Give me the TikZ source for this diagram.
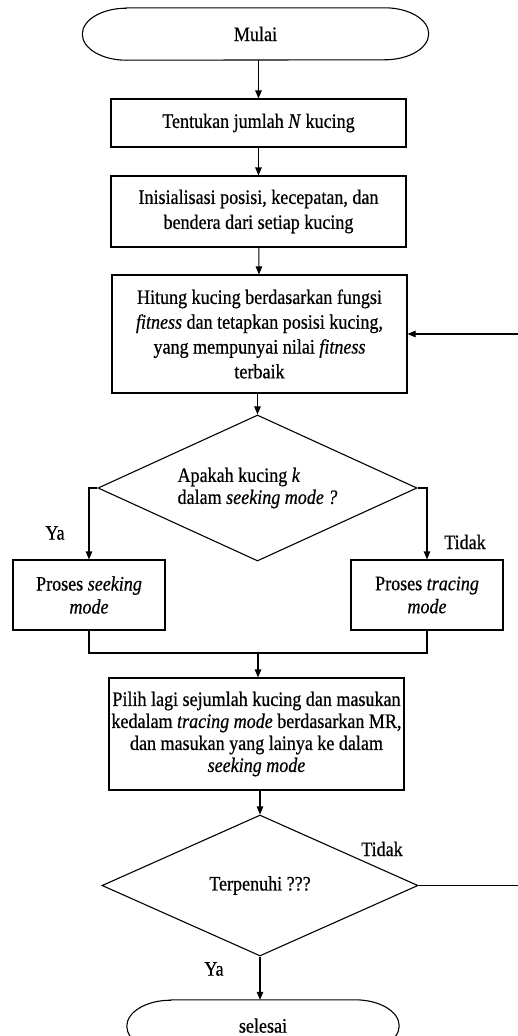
\documentclass[tikz,border=0pt]{standalone}
\usepackage{fontspec}
\setmainfont{Liberation Serif}[FakeStretch=0.88,FakeBold=0.6]
\usetikzlibrary{shapes.geometric,arrows.meta}
\begin{document}
\begin{tikzpicture}[x=1pt,y=-1pt,
  every node/.style={font=\fontsize{20.5}{24}\selectfont, inner sep=2pt},
  conn/.style={line width=1.1pt, -{Triangle[length=8pt,width=6.5pt]}},
  plain/.style={line width=1.1pt},
  proc/.style={draw, line width=1.1pt, align=center},
  decide/.style={draw, line width=1.1pt, diamond, aspect=2.2, inner sep=0pt},
  term/.style={inner sep=0pt},
  lbl/.style={inner sep=0pt}]
\useasboundingbox (0,0) rectangle (518,1036);

% start terminal
\node[term, minimum width=346pt, minimum height=52pt] (start) at (255.5,34) {\raisebox{-2pt}{Mulai}};
\draw[plain] ([xshift=44pt]start.north west) -- ([xshift=-44pt]start.north east)
  arc[start angle=90,end angle=-90,x radius=44pt,y radius=26pt]
  -- ([xshift=44pt]start.south west)
  arc[start angle=270,end angle=90,x radius=44pt,y radius=26pt] -- cycle;

\node[proc, minimum width=295pt, minimum height=48pt] (b1) at (258.5,123) {Tentukan jumlah \textit{N} kucing};
\node[proc, minimum width=295pt, minimum height=71pt, font=\fontsize{20.5}{25}\selectfont] (b2) at (258.5,211.5)
  {Inisialisasi posisi, kecepatan, dan\\bendera dari setiap kucing};
\node[proc, minimum width=295pt, minimum height=118pt, font=\fontsize{20.5}{24.8}\selectfont] (b3) at (259.5,334)
  {Hitung kucing berdasarkan fungsi\\\textit{fitness} dan tetapkan posisi kucing,\\yang mempunyai nilai \textit{fitness}\\terbaik};

\node[decide, minimum width=319pt, minimum height=146pt, align=left, font=\fontsize{20.5}{22}\selectfont] (d1) at (257.5,488)
  {Apakah kucing \textit{k}\\dalam \textit{seeking mode ?}};

\node[proc, minimum width=152pt, minimum height=70pt, font=\fontsize{20.5}{23}\selectfont] (lb) at (89,595)
  {Proses \textit{seeking}\\\textit{mode}};
\node[proc, minimum width=152pt, minimum height=70pt, font=\fontsize{20.5}{23}\selectfont] (rb) at (427,595)
  {Proses \textit{tracing}\\\textit{mode}};

\coordinate (mj) at (258,653);

\node[proc, minimum width=295pt, minimum height=112pt, font=\fontsize{20.5}{22}\selectfont] (b4) at (256.5,734)
  {Pilih lagi sejumlah kucing dan masukan\\kedalam \textit{tracing mode} berdasarkan MR,\\dan masukan yang lainya ke dalam\\\textit{seeking mode}};

\node[decide, minimum width=316pt, minimum height=141pt] (d2) at (260,885.5) {\raisebox{4pt}{Terpenuhi ???}};

\node[term, minimum width=272pt, minimum height=52pt] (end) at (263,1026) {\raisebox{1pt}{selesai}};
\draw[plain] ([xshift=44pt]end.north west) -- ([xshift=-44pt]end.north east)
  arc[start angle=90,end angle=-90,x radius=44pt,y radius=26pt]
  -- ([xshift=44pt]end.south west)
  arc[start angle=270,end angle=90,x radius=44pt,y radius=26pt] -- cycle;

% labels
\node[lbl] (ya1) at (55,533) {Ya};
\node[lbl] (tidak1) at (465,542) {Tidak};
\node[lbl] (tidak2) at (382,849) {Tidak};
\node[lbl] (ya2) at (214,969) {Ya};

\coordinate (loopx) at (522,600);

% connectors
\draw[conn] (start.south -| b1.north) -- (b1.north);
\draw[conn] (b1) -- (b2);
\draw[conn] (b2) -- (b3);
\draw[conn] (b3.south -| d1.north) -- (d1.north);
\draw[conn] (d1.west) -| (lb.north);
\draw[conn] (d1.east) -| (rb.north);
\draw[plain] (lb.south) |- (mj) -| (rb.south);
\draw[conn] (mj) -- (mj |- b4.north);
\draw[conn] (b4.south -| d2.north) -- (d2.north);
\draw[conn] (d2.south) -- (d2.south |- end.north);
\draw[conn] (d2.east) -- (d2.east -| loopx) |- (b3.east);
\end{tikzpicture}
\end{document}
